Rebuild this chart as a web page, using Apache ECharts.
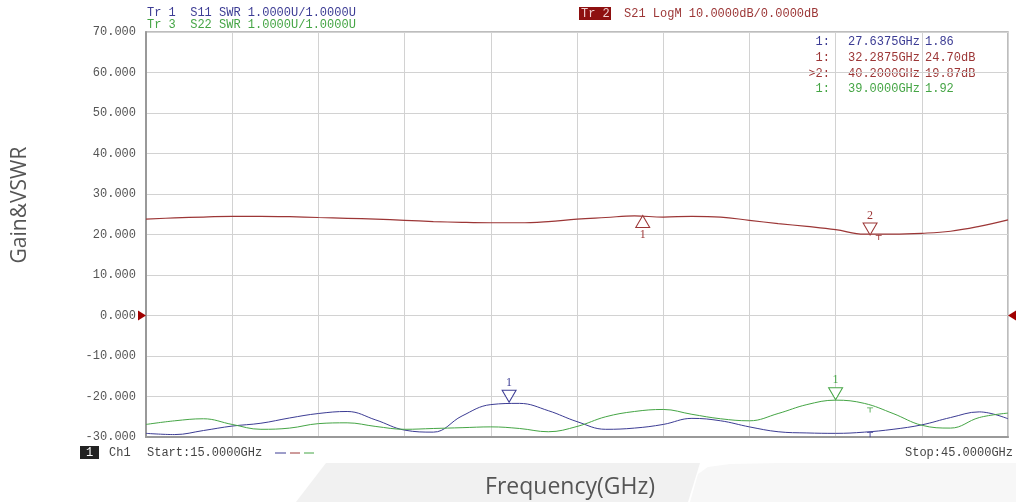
<!DOCTYPE html>
<html><head><meta charset="utf-8">
<script src="https://cdn.jsdelivr.net/npm/echarts@6/dist/echarts.min.js"></script>
<style>html,body{margin:0;padding:0;background:#fff;}#c{width:1016px;height:502px;}</style>
</head><body><div id="c"></div>
<script>
// ---- data ----
const freqGHz = [15,16,17,18,19,20,21,22,23,24,25,26,27,28,29,30,31,32,33,34,35,36,37,38,39,40,41,42,43,44,45];
const s21Gain = [23.8,24.1,24.3,24.5,24.5,24.4,24.2,24.0,23.8,23.5,23.2,23.0,22.9,22.9,23.2,23.8,24.2,24.6,24.3,24.5,24.3,23.5,22.7,22.0,21.2,20.1,20.1,20.3,20.8,22.0,23.6];
const s11Swr  = [1.09,1.06,1.16,1.27,1.34,1.47,1.58,1.63,1.42,1.17,1.12,1.52,1.80,1.83,1.65,1.38,1.19,1.22,1.31,1.46,1.40,1.25,1.13,1.10,1.09,1.12,1.19,1.30,1.48,1.62,1.45];
const s22Swr  = [1.31,1.40,1.45,1.31,1.19,1.22,1.33,1.35,1.26,1.19,1.21,1.23,1.25,1.21,1.13,1.26,1.50,1.63,1.68,1.56,1.45,1.40,1.58,1.80,1.91,1.83,1.58,1.29,1.22,1.48,1.59];
const gainAxis = {min:-30, max:70, interval:10};
const swrAxis  = {min:1, max:11};
const freqAxis = {min:15, max:45, interval:3};
const markS11   = [{name:'1', f:27.6375, v:1.86}];
const markS21   = [{name:'1', f:32.2875, v:24.70, up:true}, {name:'2', f:40.2000, v:19.87}];
const markS22   = [{name:'1', f:39.0000, v:1.92}];
const stimTicks = {f:40.2, s11:1.13, s22:1.74, s21f:40.5, s21:20.0};
const headerTexts = ['Tr 1  S11 SWR 1.0000U/1.0000U', 'Tr 3  S22 SWR 1.0000U/1.0000U', 'Tr 2', 'S21 LogM 10.0000dB/0.0000dB'];
const startStop = ['Start:15.0000GHz', 'Stop:45.0000GHz'];

const C_BLUE = '#3c3c94', C_RED = '#9c3636', C_GREEN = '#45a545';
const MONO = '12px "Liberation Mono", monospace';

const pairs = arr => freqGHz.map((f,i)=>[f, arr[i]]);
const DOWN = 'path://M0,0 L14,0 L7,12 Z';
const UP = 'path://M7,0 L14,12 L0,12 Z';
const TICK = 'path://M0,0 L7,0 L7,1 L4,1 L4,6 L3,6 L3,1 L0,1 Z';

function markerPts(list, color) {
  return list.map(m => ({
    coord:[m.f, m.v], symbol: m.up ? UP : DOWN, symbolSize:[14,12],
    symbolOffset:[0, m.up ? 6 : -6],
    itemStyle:{color:'#fff', borderColor:color, borderWidth:1},
    label:{show:true, formatter:m.name, position: m.up ? 'bottom' : 'top', distance:1,
      color:color, fontFamily:'"Liberation Serif", serif', fontSize:12}
  }));
}
function tickPt(f, v, color) {
  return {coord:[f, v], symbol:TICK, symbolSize:[6,5], symbolOffset:[0,3],
    itemStyle:{color:color}, label:{show:false}};
}

const tableRows = [
  {k:'1:', f:markS11[0].f, v:markS11[0].v.toFixed(2), c:C_BLUE},
  {k:'1:', f:markS21[0].f, v:markS21[0].v.toFixed(2)+'dB', c:C_RED},
  {k:'>2:', f:markS21[1].f, v:markS21[1].v.toFixed(2)+'dB', c:C_RED},
  {k:'1:', f:markS22[0].f, v:markS22[0].v.toFixed(2), c:C_GREEN}
];
const graphics = [
  {type:'polygon', z:-10, shape:{points:[[326,463],[700,463],[688,502],[296,502]]}, style:{fill:'#f1f1f1'}},
  {type:'polygon', z:-10, shape:{points:[[690,502],[698,474],[708,467],[730,464],[780,463],[1016,463],[1016,502]]}, style:{fill:'#f7f7f7'}},
  {type:'text', x:147, y:13, style:{text:headerTexts[0], font:MONO, fill:C_BLUE, textVerticalAlign:'middle'}},
  {type:'text', x:147, y:25, style:{text:headerTexts[1], font:MONO, fill:C_GREEN, textVerticalAlign:'middle'}},
  {type:'rect', shape:{x:579, y:7, width:32, height:13}, style:{fill:'#8e1010'}},
  {type:'text', x:581, y:14, style:{text:headerTexts[2], font:MONO, fill:'#f0d0d0', textVerticalAlign:'middle'}},
  {type:'text', x:624, y:14, style:{text:headerTexts[3], font:MONO, fill:C_RED, textVerticalAlign:'middle'}},
  {type:'rect', shape:{x:80, y:446, width:19, height:13}, style:{fill:'#222'}},
  {type:'text', x:89.5, y:453, style:{text:'1', font:MONO, fill:'#fff', textAlign:'center', textVerticalAlign:'middle'}},
  {type:'text', x:109, y:453, style:{text:'Ch1', font:MONO, fill:'#444', textVerticalAlign:'middle'}},
  {type:'text', x:147, y:453, style:{text:startStop[0], font:MONO, fill:'#444', textVerticalAlign:'middle'}},
  {type:'line', shape:{x1:275,y1:453,x2:286,y2:453}, style:{stroke:C_BLUE, lineWidth:1}},
  {type:'line', shape:{x1:290,y1:453,x2:300,y2:453}, style:{stroke:C_RED, lineWidth:1}},
  {type:'line', shape:{x1:304,y1:453,x2:314,y2:453}, style:{stroke:C_GREEN, lineWidth:1}},
  {type:'text', x:1013, y:453, style:{text:startStop[1], font:MONO, fill:'#444', textAlign:'right', textVerticalAlign:'middle'}},
  {type:'text', x:570, y:487, style:{text:'Frequency(GHz)', font:'23px "Open Sans", sans-serif', fill:'#555', textAlign:'center', textVerticalAlign:'middle'}},
  {type:'text', x:20, y:205, rotation:Math.PI/2, style:{text:'Gain&VSWR', font:'21px "Open Sans", sans-serif', fill:'#555', textAlign:'center', textVerticalAlign:'middle'}}
];
tableRows.forEach((r,i) => {
  const y = 42 + i*15.7;
  graphics.push({type:'text', x:830, y:y, style:{text:r.k, font:MONO, fill:r.c, textAlign:'right', textVerticalAlign:'middle'}});
  graphics.push({type:'text', x:848, y:y, style:{text:r.f.toFixed(4)+'GHz', font:MONO, fill:r.c, textVerticalAlign:'middle'}});
  graphics.push({type:'text', x:925, y:y, style:{text:r.v, font:MONO, fill:r.c, textVerticalAlign:'middle'}});
});

const chart = echarts.init(document.getElementById('c'), null, {renderer:'canvas'});
chart.setOption({
  animation:false,
  backgroundColor:'#fff',
  grid:{left:146, right:8, top:32, bottom:65, show:true, borderColor:'#a8a8a8', borderWidth:1.5},
  xAxis:{type:'value', min:freqAxis.min, max:freqAxis.max, interval:freqAxis.interval,
    axisLabel:{show:false}, axisTick:{show:false},
    axisLine:{show:true, onZero:false, lineStyle:{color:'#999', width:2}},
    splitLine:{show:true, lineStyle:{color:'#d2d2d2', width:1}}},
  yAxis:[
    {type:'value', min:gainAxis.min, max:gainAxis.max, interval:gainAxis.interval,
      axisLabel:{formatter:v=>v.toFixed(3), color:'#555', fontFamily:'"Liberation Mono", monospace', fontSize:12, margin:10},
      axisTick:{show:false}, axisLine:{show:true, onZero:false, lineStyle:{color:'#999', width:2}},
      splitLine:{show:true, lineStyle:{color:'#d2d2d2', width:1}}},
    {type:'value', min:swrAxis.min, max:swrAxis.max, show:false, splitLine:{show:false}}
  ],
  series:[
    {name:'S11', type:'line', yAxisIndex:1, data:pairs(s11Swr), smooth:0.4, symbol:'none',
      lineStyle:{color:C_BLUE, width:1}, z:3,
      markPoint:{silent:true, data:[...markerPts(markS11, C_BLUE), tickPt(stimTicks.f, stimTicks.s11, C_BLUE)]}},
    {name:'S22', type:'line', yAxisIndex:1, data:pairs(s22Swr), smooth:0.4, symbol:'none',
      lineStyle:{color:C_GREEN, width:1}, z:3,
      markPoint:{silent:true, data:[...markerPts(markS22, C_GREEN), tickPt(stimTicks.f, stimTicks.s22, C_GREEN)]}},
    {name:'S21', type:'line', yAxisIndex:0, data:pairs(s21Gain), smooth:0.4, symbol:'none',
      lineStyle:{color:C_RED, width:1.2}, z:3,
      markPoint:{silent:true, data:[
        ...markerPts(markS21, C_RED),
        tickPt(stimTicks.s21f, stimTicks.s21, C_RED),
        {coord:[freqAxis.min, 0], symbol:'triangle', symbolSize:[10,8], symbolRotate:-90, symbolOffset:[-4,0], itemStyle:{color:'#a00000'}, label:{show:false}},
        {coord:[freqAxis.max, 0], symbol:'triangle', symbolSize:[10,8], symbolRotate:90, symbolOffset:[4,0], itemStyle:{color:'#a00000'}, label:{show:false}}
      ]}}
  ],
  graphic:graphics
});
</script></body></html>
